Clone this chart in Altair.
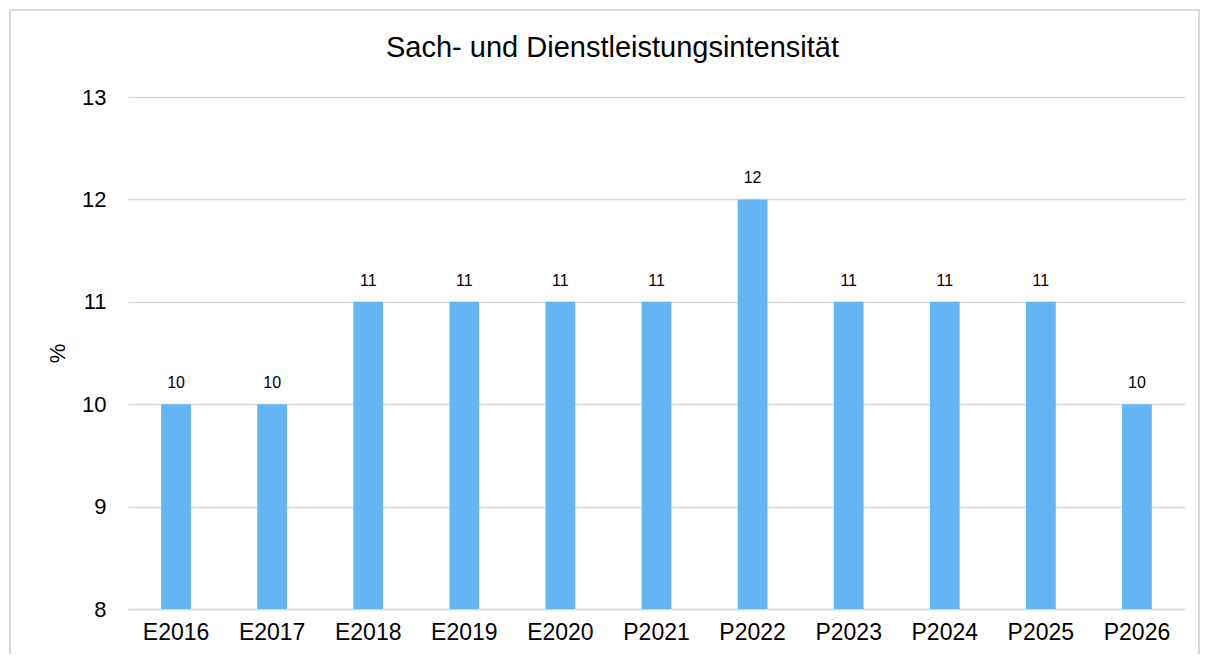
import altair as alt
import pandas as pd

categories = ["E2016", "E2017", "E2018", "E2019", "E2020", "P2021", "P2022", "P2023", "P2024", "P2025", "P2026"]
values = [10, 10, 11, 11, 11, 11, 12, 11, 11, 11, 10]
y_ticks = [8, 9, 10, 11, 12, 13]
title_text = "Sach- und Dienstleistungsintensität"

df = pd.DataFrame({"Jahr": categories, "Wert": values})
FONT = "Liberation Sans"
W, H = 1057, 512

x = alt.X("Jahr:N", sort=categories, title=None,
          scale=alt.Scale(paddingInner=0.69, paddingOuter=0.345),
          axis=alt.Axis(labelAngle=0, labelFontSize=23, labelFont=FONT, labelColor="#000",
                        labelPadding=12, ticks=False, domainColor="#d9d9d9", domainWidth=1.5))
y = alt.Y("Wert:Q", title="%",
          scale=alt.Scale(domain=[8, 13], nice=False, zero=False),
          axis=alt.Axis(values=y_ticks, format="d", labelFontSize=22, labelFont=FONT, labelColor="#000",
                        labelPadding=22, ticks=False, domain=False, gridColor="#d9d9d9",
                        gridWidth=1.5, titleFontSize=22, titleFont=FONT, titleFontWeight="normal",
                        titleColor="#000", titlePadding=12))

bars = alt.Chart(df).mark_bar(color="#64B5F6").encode(x=x, y=y, y2=alt.datum(8))
labels = alt.Chart(df).mark_text(dy=-21, fontSize=16, font=FONT, color="#000").encode(
    x=alt.X("Jahr:N", sort=categories), y=alt.Y("Wert:Q"), text=alt.Text("Wert:Q"))
border = alt.Chart(df).mark_rect(fill=None, stroke="#d9d9d9", strokeWidth=2, clip=False).encode(
    x=alt.value(-118), x2=alt.value(1071), y=alt.value(-87), y2=alt.value(H + 80))
title = alt.Chart(pd.DataFrame({"t": [title_text]})).mark_text(
    fontSize=29, font=FONT, color="#000", align="center", baseline="alphabetic", clip=False
).encode(text="t:N", x=alt.value(W / 2 - 44), y=alt.value(-40))

chart = alt.layer(border, bars, labels, title).properties(
    width=W, height=H,
    autosize=alt.AutoSizeParams(type="none"),
    padding={"left": 120, "top": 89, "right": 16, "bottom": 45},
).configure_view(stroke=None)

chart.save("out.html", embed_options={"renderer": "svg", "actions": False})
